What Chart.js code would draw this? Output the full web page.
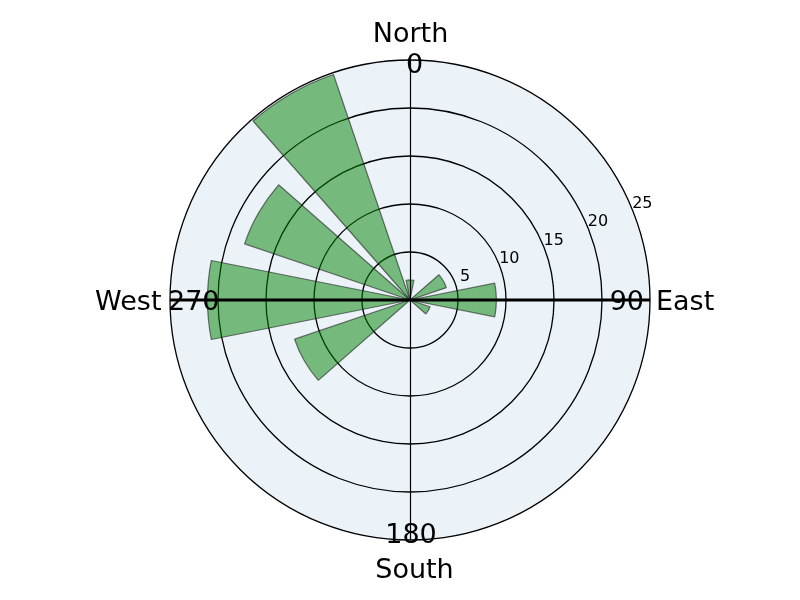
<!DOCTYPE html>
<html>
<head>
<meta charset="utf-8">
<script src="https://cdn.jsdelivr.net/npm/chart.js@4/dist/chart.umd.min.js"></script>
<style>
  html, body { margin: 0; padding: 0; background: #fff; }
  #wrap { width: 800px; height: 600px; }
</style>
</head>
<body>
<div id="wrap"><canvas id="rose" width="800" height="600"></canvas></div>
<script>
// direcções (graus, 0 = norte, sentido horário) e valor de cada barra
const directions = [0, 30, 60, 90, 120, 150, 180, 210, 240, 270, 300, 330];
const speeds = [2.1, 0, 4.0, 9.0, 2.2, 0, 0, 0, 12.7, 21.1, 18.2, 24.8];
const radialTicks = [5, 10, 15, 20, 25];
const compassNames = ['North', 'East', 'South', 'West'];
const compassDegrees = ['0', '90', '180', '270'];
const barWidth = 22.5;

// cada barra é seguida por um segmento vazio que preenche o espaço até à próxima
const segValues = [];
const segAngles = [];
const segLabels = [];
directions.forEach((d, i) => {
    const next = i + 1 < directions.length ? directions[i + 1] : directions[0] + 360;
    segValues.push(speeds[i]);
    segAngles.push(barWidth);
    segLabels.push(String(d));
    segValues.push(0);
    segAngles.push(next - d - barWidth);
    segLabels.push('');
});

const FONT = "'DejaVu Sans', sans-serif";

const roseDecor = {
    id: 'roseDecor',
    afterDraw(chart) {
        const scale = chart.scales.r;
        const ctx = chart.ctx;
        const cx = scale.xCenter, cy = scale.yCenter, R = scale.drawingArea;
        ctx.save();
        ctx.strokeStyle = '#000';

        ctx.lineWidth = 1.2;
        ctx.beginPath();
        ctx.moveTo(cx + 0.5, cy - R);
        ctx.lineTo(cx + 0.5, cy + R);
        ctx.stroke();

        ctx.lineWidth = 3;
        ctx.beginPath();
        ctx.moveTo(cx - R, cy);
        ctx.lineTo(cx + R, cy);
        ctx.stroke();

        // rótulos radiais a 22.5° acima do eixo leste
        ctx.fillStyle = '#000';
        ctx.font = '16px ' + FONT;
        ctx.textAlign = 'center';
        ctx.textBaseline = 'middle';
        const a = 22.5 * Math.PI / 180;
        radialTicks.forEach(v => {
            const d = scale.getDistanceFromCenterForValue(v) + 11.5;
            ctx.fillText(String(v), cx + d * Math.cos(a), cy - d * Math.sin(a));
        });

        ctx.font = '27px ' + FONT;
        ctx.textBaseline = 'alphabetic';
        // norte
        ctx.textAlign = 'center';
        ctx.fillText(compassNames[0], cx + 0.5, cy - R - 18);
        ctx.fillText(compassDegrees[0], cx + 4.5, cy - R + 12.5);
        // leste
        ctx.textAlign = 'right';
        ctx.fillText(compassDegrees[1], cx + R - 6, cy + 9.5);
        ctx.textAlign = 'left';
        ctx.fillText(compassNames[1], cx + R + 6, cy + 9.5);
        // sul
        ctx.textAlign = 'center';
        ctx.fillText(compassDegrees[2], cx + 1, cy + R + 3);
        ctx.fillText(compassNames[2], cx + 4.5, cy + R + 38);
        // oeste
        ctx.textAlign = 'left';
        ctx.fillText(compassDegrees[3], cx - R - 2, cy + 9.5);
        ctx.textAlign = 'right';
        ctx.fillText(compassNames[3], cx - R - 8.5, cy + 9.5);
        ctx.restore();
    }
};

new Chart(document.getElementById('rose').getContext('2d'), {
    type: 'polarArea',
    data: {
        labels: segLabels,
        datasets: [{
            data: segValues,
            angle: ctx => segAngles[ctx.dataIndex],
            backgroundColor: ctx => ctx.dataIndex % 2 ? 'rgba(0,0,0,0)' : 'rgba(0,128,0,0.5)',
            borderColor: 'rgba(0,0,0,0.5)',
            borderWidth: ctx => ctx.dataIndex % 2 ? 0 : 1.2
        }]
    },
    options: {
        responsive: false,
        animation: false,
        events: [],
        layout: { padding: { top: 60, bottom: 60, left: 20, right: 0 } },
        plugins: {
            legend: { display: false },
            tooltip: { enabled: false }
        },
        scales: {
            r: {
                min: 0,
                max: 25,
                startAngle: directions[0] - barWidth / 2,
                backgroundColor: 'rgb(235,242,248)',
                ticks: { stepSize: 5, display: false },
                grid: { circular: true, color: '#000', lineWidth: 1.3 },
                angleLines: { display: false },
                pointLabels: { display: false }
            }
        }
    },
    plugins: [roseDecor]
});
</script>
</body>
</html>
